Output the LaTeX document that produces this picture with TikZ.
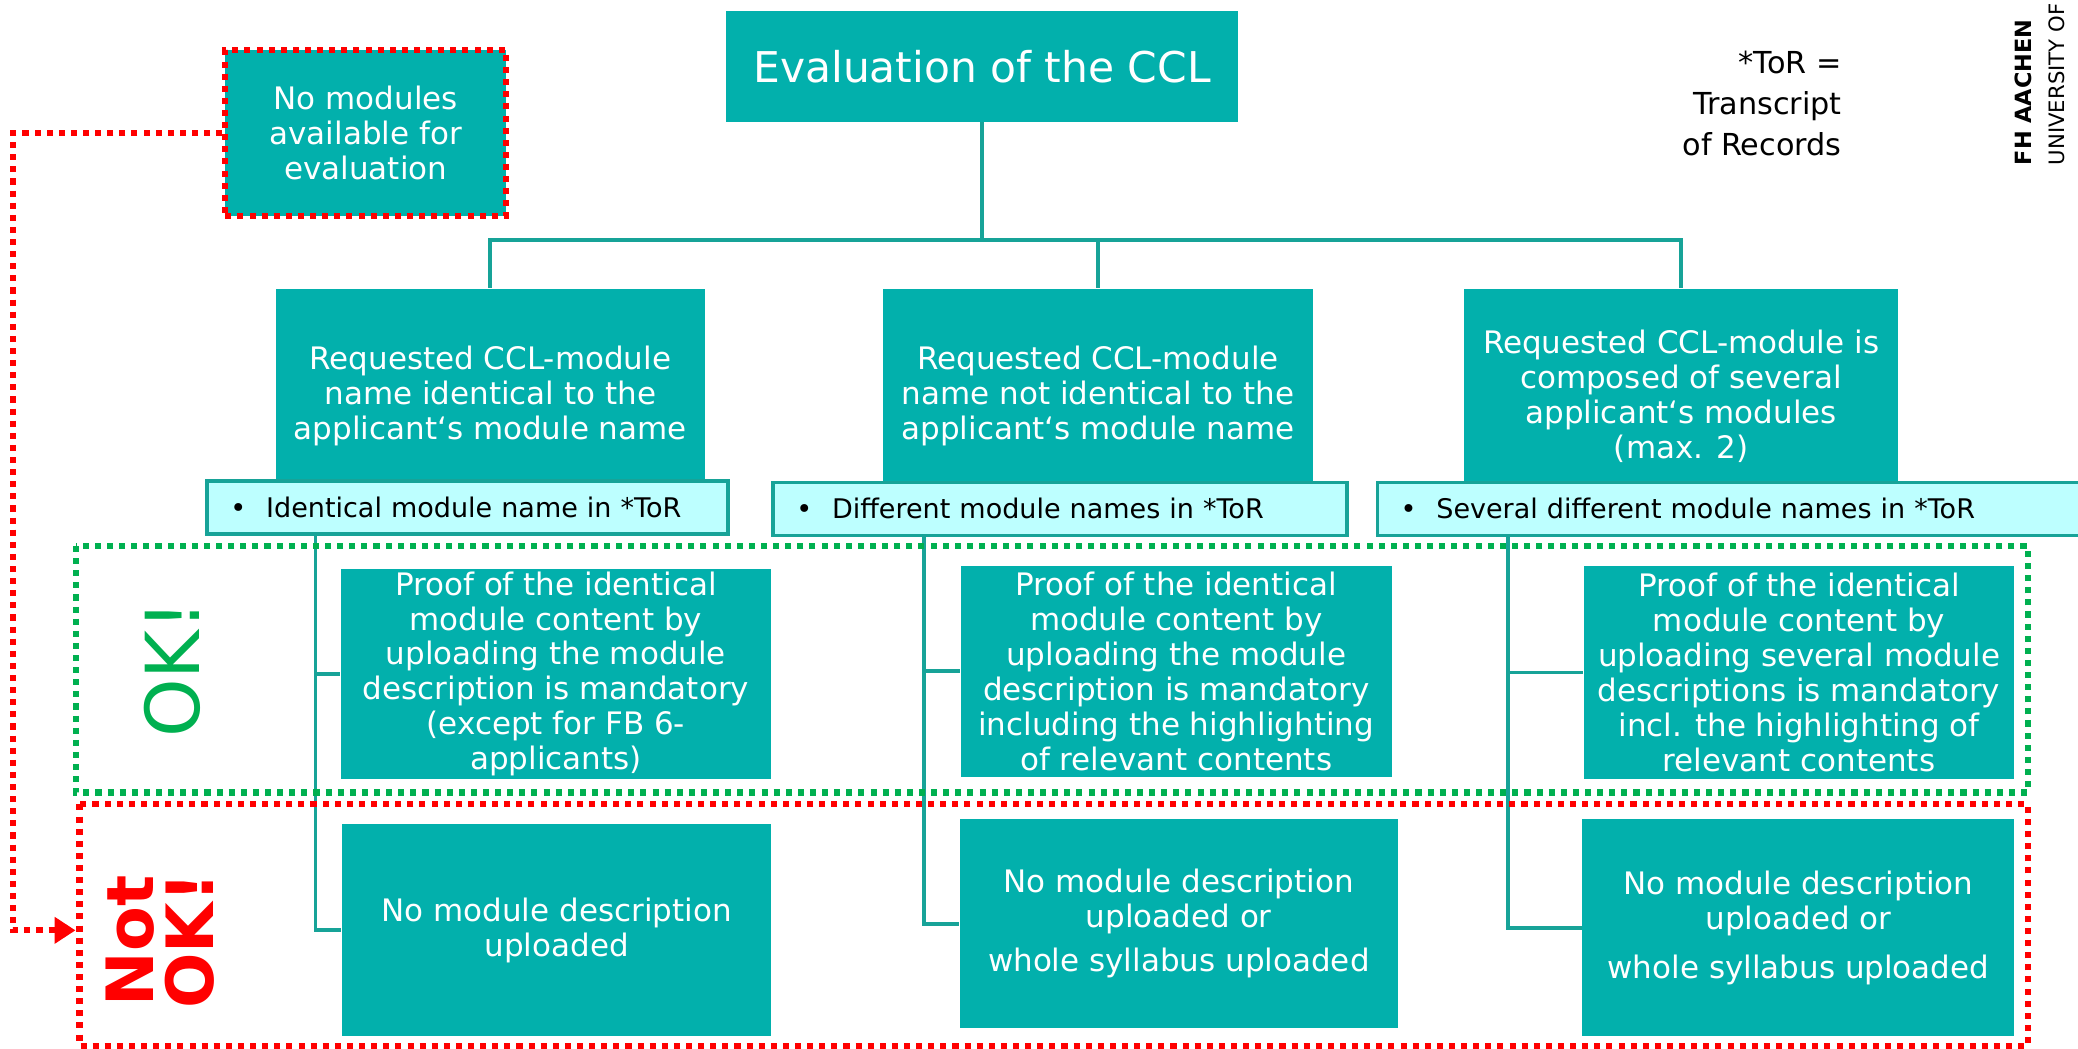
\documentclass[tikz,border=0pt]{standalone}
\usepackage{fontspec}
\setmainfont{DejaVu Sans}
\usetikzlibrary{arrows.meta}
\definecolor{fhteal}{HTML}{02B0AC}
\definecolor{fhline}{HTML}{17A398}
\definecolor{fhlight}{HTML}{BDFFFF}
\definecolor{okgreen}{HTML}{00B050}
\definecolor{nokred}{HTML}{FF0000}
\tikzset{
  box/.style={fill=fhteal,text=white,align=center,inner sep=0pt,font=\fontsize{13.3}{15}\selectfont},
  tor/.style={draw=fhline,line width=1.5pt,fill=fhlight,anchor=west,align=left,inner xsep=0.35cm,inner ysep=0pt,minimum height=0.8cm,font=\fontsize{11.6}{14}\selectfont},
  link/.style={draw=fhline,line width=1.6pt},
  okframe/.style={draw=okgreen,line width=2.6pt,dash pattern=on 2.6pt off 2.6pt},
  nokframe/.style={draw=nokred,line width=2.6pt,dash pattern=on 2.6pt off 2.6pt},
}
\begin{document}
\begin{tikzpicture}
                \useasboundingbox (0,0) rectangle (31.36,-15.82);
                \node[box,minimum width=7.72cm,minimum height=1.68cm,font=\fontsize{18.2}{22}\selectfont] (title) at (14.82,-1.00) {Evaluation of the CCL};
                \node[box,nokframe,minimum width=4.24cm,minimum height=2.5cm] (nomod) at (5.52,-2.01) {No modules\\available for\\evaluation};
                \node[box,minimum width=6.48cm,minimum height=3.24cm] (reqA) at (7.40,-5.98) {Requested CCL-module\\name identical to the\\applicant‘s module name};
                \node[box,minimum width=6.50cm,minimum height=3.24cm] (reqB) at (16.57,-5.98) {Requested CCL-module\\name not identical to the\\applicant‘s module name};
                \node[box,minimum width=6.54cm,minimum height=3.24cm] (reqC) at (25.37,-5.98) {Requested CCL-module is\\composed of several\\applicant‘s modules\\(max. 2)};
                \node[tor,text width=7.16cm] (torA) at (3.10,-7.66) {\textbullet\hspace{0.3cm}Identical module name in *ToR};
                \node[tor,text width=7.96cm] (torB) at (11.64,-7.68) {\textbullet\hspace{0.3cm}Different module names in *ToR};
                \node[tor,text width=10.04cm] (torC) at (20.76,-7.68) {\textbullet\hspace{0.3cm}Several different module names in *ToR};
                \node[box,minimum width=6.50cm,minimum height=3.18cm] (proofA) at (8.39,-10.17) {Proof of the identical\\module content by\\uploading the module\\description is mandatory\\(except for FB 6-\\applicants)};
                \node[box,minimum width=6.50cm,minimum height=3.18cm] (proofB) at (17.75,-10.13) {Proof of the identical\\module content by\\uploading the module\\description is mandatory\\including the highlighting\\of relevant contents};
                \node[box,minimum width=6.50cm,minimum height=3.22cm] (proofC) at (27.15,-10.15) {Proof of the identical\\module content by\\uploading several module\\descriptions is mandatory\\incl. the highlighting of\\relevant contents};
                \node[box,minimum width=6.48cm,minimum height=3.20cm] (noneA) at (8.40,-14.04) {No module description\\uploaded};
                \node[box,minimum width=6.62cm,minimum height=3.16cm] (noneB) at (17.79,-13.94) {No module description\\uploaded or\\[4pt]whole syllabus uploaded};
                \node[box,minimum width=6.52cm,minimum height=3.28cm] (noneC) at (27.14,-14.00) {No module description\\uploaded or\\[6pt]whole syllabus uploaded};
                \draw[link] (title.south) -- ++(0,-1.78) coordinate (bar) -| (reqA.north);
                \draw[link] (bar) -| (reqB.north);
                \draw[link] (bar) -| (reqC.north);
                \coordinate (trunkA) at (4.76,-8.06);
                \coordinate (trunkB) at (13.94,-8.08);
                \coordinate (trunkC) at (22.76,-8.08);
                \draw[link] (trunkA) |- (proofA.west);
                \draw[link] (trunkA) |- (noneA.west);
                \draw[link] (trunkB) |- (proofB.west);
                \draw[link] (trunkB) |- (noneB.west);
                \draw[link] (trunkC) |- (proofC.west);
                \draw[link] (trunkC) |- (noneC.west);
                \draw[okframe] (1.14,-8.24) rectangle (30.60,-11.96);
                \draw[nokframe] (1.20,-12.14) rectangle (30.60,-15.78);
                \coordinate (bend) at (0.20,-14.04);
                \coordinate (notin) at (1.14,-14.04);
                \draw[nokframe,-{Triangle[length=9pt,width=11pt]}] (nomod.west) -| (bend) -- (notin);
                \node[text=okgreen,rotate=90,inner sep=0pt,font=\fontsize{32}{36}\selectfont] (ok) at (2.60,-10.10) {OK!};
                \node[text=nokred,rotate=90,inner sep=0pt,align=center,font=\fontsize{28}{26}\selectfont\bfseries] (notok) at (2.42,-14.20) {Not\\OK!};
                \node[anchor=east,align=right,inner sep=0pt,font=\fontsize{13}{17.6}\selectfont] (legend) at (27.80,-1.56) {*ToR =\\Transcript\\of Records};
                \node[rotate=90,anchor=west,inner sep=0pt,font=\fontsize{9.6}{11}\selectfont\bfseries] (fh) at (30.54,-2.50) {FH AACHEN};
                \node[rotate=90,anchor=west,inner sep=0pt,font=\fontsize{9.1}{11}\selectfont] (uni) at (31.04,-2.50) {UNIVERSITY OF};
            \end{tikzpicture}
\end{document}
